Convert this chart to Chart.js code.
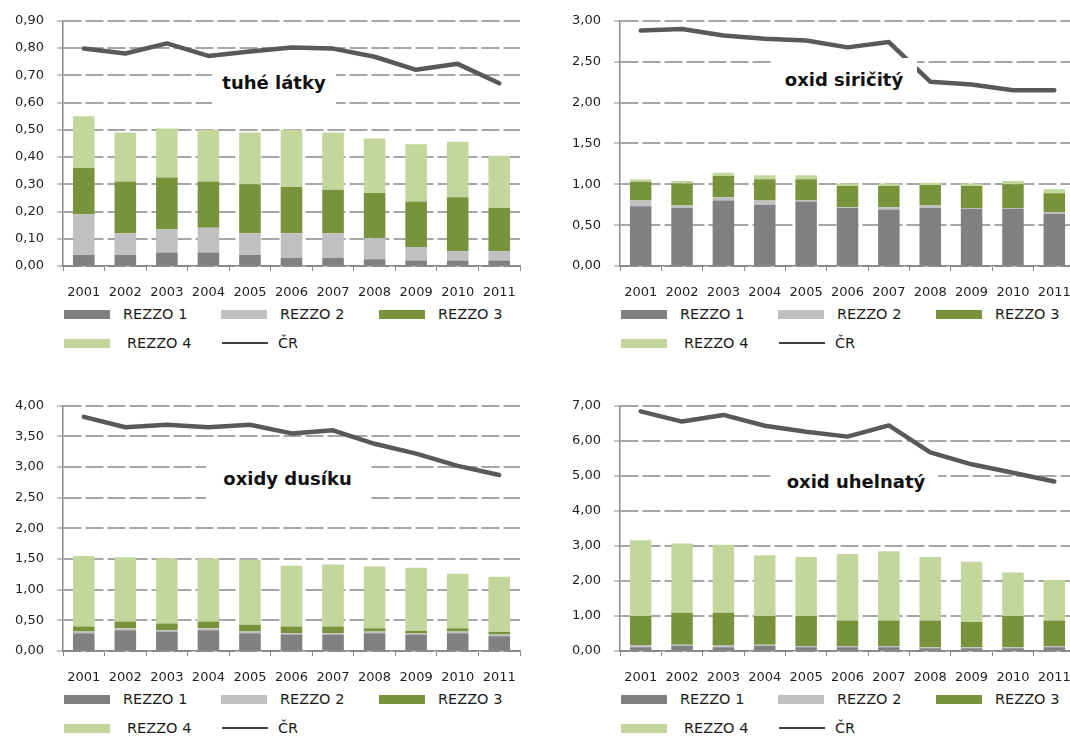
<!DOCTYPE html>
<html>
<head>
<meta charset="utf-8">
<script src="https://cdn.jsdelivr.net/npm/chart.js@4.4.1/dist/chart.umd.min.js"></script>
<style>
  body { margin: 0; width: 1070px; height: 737px; overflow: hidden; background: #fff; font-family: "DejaVu Sans", sans-serif; }
  .panel { position: absolute; overflow: hidden; height: 370px; }
  .panel canvas { position: absolute; left: 0; top: 0; }
  .ptitle { position: absolute; background: #fff; font-weight: bold; font-size: 18px; color: #111; text-align: center; }
  .lg-box { position: absolute; height: 9px; width: 46px; }
  .lg-line { position: absolute; height: 2px; width: 46px; background: #404040; }
  .lg-text { position: absolute; font-size: 14.5px; color: #1a1a1a; line-height: 18px; white-space: nowrap; }
</style>
</head>
<body>

<div class="panel" id="p1" style="left:0; top:0; width:535px;">
  <canvas id="c1" width="535" height="300"></canvas>
  <div class="ptitle" style="left:212px; top:62px; width:124px; height:42px; line-height:42px;">tuhé látky</div>
</div>
<div class="panel" id="p2" style="left:535px; top:0; width:535px;">
  <canvas id="c2" width="560" height="300"></canvas>
  <div class="ptitle" style="left:236px; top:58px; width:146px; height:44px; line-height:44px;">oxid siričitý</div>
</div>
<div class="panel" id="p3" style="left:0; top:385px; width:535px; height:352px;">
  <canvas id="c3" width="535" height="300"></canvas>
  <div class="ptitle" style="left:206px; top:70px; width:163px; height:48px; line-height:48px;">oxidy dusíku</div>
</div>
<div class="panel" id="p4" style="left:535px; top:385px; width:535px; height:352px;">
  <canvas id="c4" width="560" height="300"></canvas>
  <div class="ptitle" style="left:239px; top:77px; width:164px; height:40px; line-height:40px;">oxid uhelnatý</div>
</div>

<script>
const years = ['2001', '2002', '2003', '2004', '2005', '2006', '2007', '2008', '2009', '2010', '2011'];
const seriesNames = ['REZZO 1', 'REZZO 2', 'REZZO 3', 'REZZO 4', 'ČR'];

// tuhe latky
const tlRezzo1 = [0.04, 0.04, 0.05, 0.05, 0.04, 0.03, 0.03, 0.025, 0.02, 0.02, 0.02];
const tlRezzo2 = [0.15, 0.08, 0.085, 0.09, 0.08, 0.09, 0.09, 0.077, 0.05, 0.034, 0.034];
const tlRezzo3 = [0.17, 0.19, 0.19, 0.17, 0.18, 0.17, 0.16, 0.166, 0.167, 0.198, 0.159];
const tlRezzo4 = [0.19, 0.18, 0.18, 0.19, 0.19, 0.21, 0.21, 0.20, 0.21, 0.204, 0.192];
const tlCR = [0.798, 0.78, 0.817, 0.771, 0.787, 0.802, 0.798, 0.768, 0.72, 0.742, 0.671];

// oxid siricity
const soRezzo1 = [0.73, 0.71, 0.80, 0.75, 0.79, 0.71, 0.69, 0.71, 0.70, 0.70, 0.64];
const soRezzo2 = [0.07, 0.03, 0.04, 0.05, 0.01, 0.01, 0.03, 0.03, 0.01, 0.01, 0.02];
const soRezzo3 = [0.23, 0.27, 0.26, 0.26, 0.26, 0.26, 0.26, 0.25, 0.27, 0.29, 0.23];
const soRezzo4 = [0.03, 0.03, 0.04, 0.05, 0.05, 0.03, 0.03, 0.03, 0.03, 0.04, 0.05];
const soCR = [2.88, 2.90, 2.82, 2.78, 2.76, 2.675, 2.74, 2.255, 2.22, 2.15, 2.15];

// oxidy dusiku
const noRezzo1 = [0.29, 0.34, 0.32, 0.34, 0.29, 0.27, 0.27, 0.29, 0.27, 0.29, 0.24];
const noRezzo2 = [0.03, 0.03, 0.02, 0.03, 0.03, 0.02, 0.02, 0.03, 0.02, 0.03, 0.03];
const noRezzo3 = [0.08, 0.11, 0.11, 0.11, 0.11, 0.11, 0.11, 0.05, 0.04, 0.05, 0.04];
const noRezzo4 = [1.15, 1.05, 1.06, 1.03, 1.06, 0.99, 1.01, 1.01, 1.03, 0.89, 0.90];
const noCR = [3.82, 3.65, 3.69, 3.65, 3.69, 3.55, 3.60, 3.38, 3.22, 3.02, 2.87];

// oxid uhelnaty
const coRezzo1 = [0.11, 0.14, 0.11, 0.14, 0.11, 0.11, 0.11, 0.08, 0.08, 0.08, 0.11];
const coRezzo2 = [0.06, 0.04, 0.06, 0.04, 0.03, 0.03, 0.03, 0.03, 0.03, 0.03, 0.03];
const coRezzo3 = [0.83, 0.91, 0.92, 0.82, 0.86, 0.73, 0.73, 0.76, 0.72, 0.89, 0.73];
const coRezzo4 = [2.16, 1.98, 1.94, 1.73, 1.68, 1.90, 1.98, 1.81, 1.72, 1.24, 1.16];
const coCR = [6.84, 6.55, 6.74, 6.43, 6.26, 6.12, 6.44, 5.67, 5.33, 5.09, 4.84];

const barColors = ['#808080', '#c0c0c0', '#77933c', '#c3d69b'];
const lineColor = '#595959';
const axisColor = '#8a8a8a';
const gridColor = '#a6a6a6';
const textColor = '#1f1f1f';

Chart.defaults.font.family = 'DejaVu Sans';

function makeChart(canvasId, bars, cr, yMax, yStep, axisLeft, padRight) {
    const datasets = bars.map((vals, i) => ({
        type: 'bar',
        label: seriesNames[i],
        data: vals,
        backgroundColor: barColors[i],
        borderWidth: 0,
        categoryPercentage: 1,
        barPercentage: 0.52,
        order: 1
    }));
    datasets.push({
        type: 'line',
        label: seriesNames[4],
        data: cr,
        borderColor: lineColor,
        borderWidth: 4.5,
        pointRadius: 0,
        tension: 0,
        borderJoinStyle: 'round',
        borderCapStyle: 'round',
        order: 0
    });

    return new Chart(document.getElementById(canvasId), {
        data: { labels: years, datasets: datasets },
        options: {
            responsive: false,
            animation: false,
            layout: { padding: { top: 14, right: padRight, left: 0, bottom: 0 } },
            plugins: { legend: { display: false }, tooltip: { enabled: false } },
            scales: {
                x: {
                    stacked: true,
                    afterFit: s => { s.height = 34; },
                    grid: { drawOnChartArea: false, drawTicks: true, tickLength: 5, color: axisColor, lineWidth: 1 },
                    border: { display: true, color: axisColor, width: 1.5 },
                    ticks: { color: textColor, font: { size: 13 }, padding: 14, maxRotation: 0, autoSkip: false }
                },
                y: {
                    stacked: true,
                    min: 0,
                    max: yMax,
                    afterFit: s => { s.width = axisLeft; },
                    grid: {
                        color: ctx => ctx.tick && ctx.tick.value === 0 ? axisColor : gridColor,
                        lineWidth: 2,
                        tickLength: 6,
                        tickColor: axisColor,
                        tickWidth: 1,
                        tickBorderDash: []
                    },
                    border: { display: true, color: axisColor, width: 1.5, dash: [18, 4] },
                    ticks: {
                        stepSize: yStep,
                        color: textColor,
                        font: { size: 13 },
                        padding: 13,
                        callback: v => v.toFixed(2).replace('.', ',')
                    }
                }
            }
        }
    });
}

function buildLegend(panelId, axisLeft) {
    const panel = document.getElementById(panelId);
    const x0 = axisLeft + 1;
    const rows = [
        { name: 0, kind: 'box', x: x0, tx: x0 + 59, y: 314 },
        { name: 1, kind: 'box', x: x0 + 157, tx: x0 + 216, y: 314 },
        { name: 2, kind: 'box', x: x0 + 315, tx: x0 + 374, y: 314 },
        { name: 3, kind: 'box', x: x0, tx: x0 + 63, y: 343 },
        { name: 4, kind: 'line', x: x0 + 158, tx: x0 + 214, y: 343 }
    ];
    rows.forEach(r => {
        const mark = document.createElement('div');
        if (r.kind === 'box') {
            mark.className = 'lg-box';
            mark.style.background = barColors[r.name];
            mark.style.top = (r.y - 4.5) + 'px';
        } else {
            mark.className = 'lg-line';
            mark.style.top = (r.y - 1) + 'px';
        }
        mark.style.left = r.x + 'px';
        panel.appendChild(mark);

        const txt = document.createElement('div');
        txt.className = 'lg-text';
        txt.textContent = seriesNames[r.name];
        txt.style.left = r.tx + 'px';
        txt.style.top = (r.y - 9) + 'px';
        panel.appendChild(txt);
    });
}

makeChart('c1', [tlRezzo1, tlRezzo2, tlRezzo3, tlRezzo4], tlCR, 0.9, 0.1, 63, 15);
makeChart('c2', [soRezzo1, soRezzo2, soRezzo3, soRezzo4], soCR, 3, 0.5, 85, 20);
makeChart('c3', [noRezzo1, noRezzo2, noRezzo3, noRezzo4], noCR, 4, 0.5, 63, 15);
makeChart('c4', [coRezzo1, coRezzo2, coRezzo3, coRezzo4], coCR, 7, 1, 85, 20);

buildLegend('p1', 63);
buildLegend('p2', 85);
buildLegend('p3', 63);
buildLegend('p4', 85);
</script>
</body>
</html>
